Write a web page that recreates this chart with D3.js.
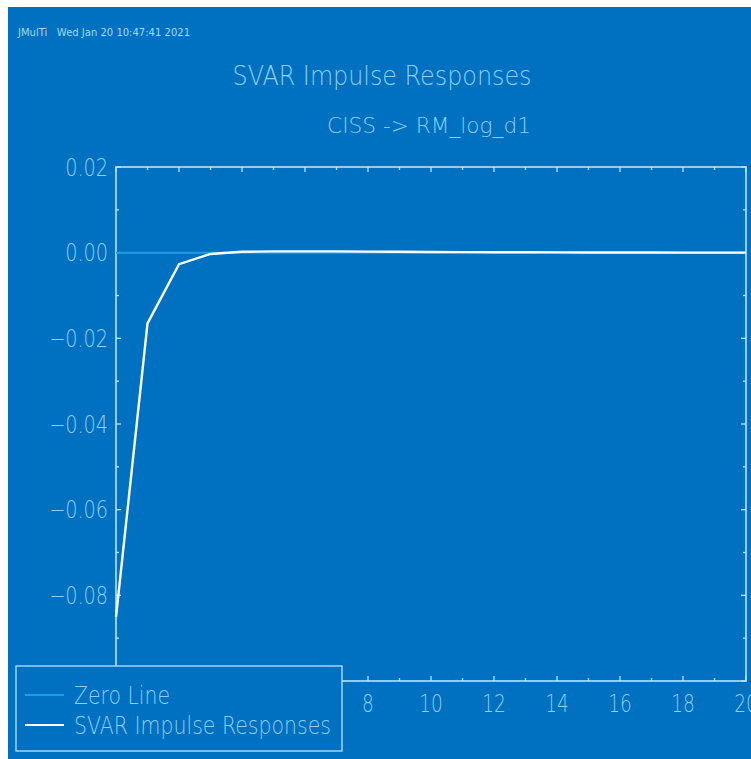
<!DOCTYPE html>
<html>
<head>
<meta charset="utf-8">
<script src="https://cdn.jsdelivr.net/npm/d3@7"></script>
<style>
  body { margin: 0; background: #fff; }
  text { font-family: 'DejaVu Sans ExtraLight', 'DejaVu Sans', sans-serif; font-weight: 200; white-space: pre; }
  text.stamp { font-family: 'DejaVu Sans', sans-serif; font-weight: 400; }
</style>
</head>
<body>
<script>
// impulse response of RM_log_d1 to a CISS shock, periods 0..20
const periods = d3.range(0, 21);
const irf = [-0.0851, -0.0165, -0.0027, -0.0003, 0.0002, 0.0003, 0.0003, 0.0003,
  0.00025, 0.0002, 0.00016, 0.00013, 0.0001, 0.00008, 0.00006, 0.00005,
  0.00004, 0.00003, 0.00002, 0.00001, 0.0];
// labels 0..6 sit under the legend box in the original
const xTicks = [8, 10, 12, 14, 16, 18, 20];
const yTicks = [0.02, 0.0, -0.02, -0.04, -0.06, -0.08];
const legendNames = ['Zero Line', 'SVAR Impulse Responses'];

const W = 751, H = 759;
const bg = '#0070c0', frameCol = '#b8e4fa', textCol = '#8fcff2', zeroCol = '#1e9de2';

const svg = d3.select('body').append('svg').attr('width', W).attr('height', H);
svg.append('rect').attr('width', W).attr('height', H).attr('fill', '#fff');
svg.append('rect').attr('x', 8).attr('y', 7).attr('width', W - 8).attr('height', H - 7).attr('fill', bg);

// squeeze text to a narrow look
function narrow(sel, f) {
  sel.each(function () {
    const w = this.getComputedTextLength();
    d3.select(this).attr('textLength', w * f).attr('lengthAdjust', 'spacingAndGlyphs');
  });
}

svg.append('text').attr('class', 'stamp').attr('x', 18).attr('y', 36).attr('font-size', 10.5)
  .attr('fill', '#a6daf5')
  .text('JMulTi   Wed Jan 20 10:47:41 2021')
  .attr('textLength', 172).attr('lengthAdjust', 'spacingAndGlyphs');

svg.append('text').attr('x', 232.5).attr('y', 84.5).attr('font-size', 26).attr('fill', textCol)
  .text('SVAR Impulse Responses').attr('textLength', 299).attr('lengthAdjust', 'spacingAndGlyphs');
svg.append('text').attr('x', 327).attr('y', 132.5).attr('font-size', 22).attr('fill', textCol)
  .text('CISS -> RM_log_d1').attr('textLength', 204).attr('lengthAdjust', 'spacingAndGlyphs');

const x = d3.scaleLinear().domain([0, 20]).range([116, 746]);
const y = d3.scaleLinear().domain([-0.1, 0.02]).range([681, 167]);

const g = svg.append('g');

// inward ticks on all four sides
const minorX = d3.range(0, 21, 1), minorY = d3.range(-0.1, 0.0201, 0.01);
function tickLen(v, step) { return Math.abs(Math.round(v / step) % 2) === 0 ? 5 : 3; }
minorX.forEach(v => {
  const L = v % 2 === 0 ? 5 : 3;
  g.append('line').attr('x1', x(v)).attr('x2', x(v)).attr('y1', y(-0.1)).attr('y2', y(-0.1) - L);
  g.append('line').attr('x1', x(v)).attr('x2', x(v)).attr('y1', y(0.02)).attr('y2', y(0.02) + L);
});
minorY.forEach(v => {
  const L = tickLen(v, 0.01);
  g.append('line').attr('x1', x(0)).attr('x2', x(0) + L).attr('y1', y(v)).attr('y2', y(v));
  g.append('line').attr('x1', x(20)).attr('x2', x(20) - L).attr('y1', y(v)).attr('y2', y(v));
});
g.selectAll('line').attr('stroke', frameCol).attr('stroke-width', 1.3);

g.append('rect').attr('x', x(0)).attr('y', y(0.02))
  .attr('width', x(20) - x(0)).attr('height', y(-0.1) - y(0.02))
  .attr('fill', 'none').attr('stroke', frameCol).attr('stroke-width', 1.6);

const fmt = d3.format('.2f');
svg.append('g').selectAll('text').data(yTicks).join('text')
  .attr('x', 108).attr('y', d => y(d)).attr('dy', '0.36em')
  .attr('text-anchor', 'end').attr('font-size', 24).attr('fill', textCol)
  .text(d => d === 0 ? '0.00' : fmt(d).replace('-', '\u2212'))
  .call(narrow, 0.8);

svg.append('g').selectAll('text').data(xTicks).join('text')
  .attr('x', d => x(d)).attr('y', 712)
  .attr('text-anchor', 'middle').attr('font-size', 25).attr('fill', textCol)
  .text(d => d)
  .call(narrow, 0.74);

// zero line and response
svg.append('line').attr('x1', x(0)).attr('x2', x(20)).attr('y1', y(0)).attr('y2', y(0))
  .attr('stroke', zeroCol).attr('stroke-width', 2);

const line = d3.line().x((d, i) => x(periods[i])).y(d => y(d));
svg.append('path').datum(irf).attr('d', line)
  .attr('fill', 'none').attr('stroke', '#fff').attr('stroke-width', 2.4);

// legend
const leg = svg.append('g');
leg.append('rect').attr('x', 16).attr('y', 666).attr('width', 326).attr('height', 85)
  .attr('fill', bg).attr('stroke', frameCol).attr('stroke-width', 1.3);
const legCols = [zeroCol, '#fff'];
const legW = [96, 257];
legendNames.forEach((name, i) => {
  const yy = 695 + i * 30;
  leg.append('line').attr('x1', 25).attr('x2', 64).attr('y1', yy).attr('y2', yy)
    .attr('stroke', legCols[i]).attr('stroke-width', 2.2);
  leg.append('text').attr('x', 74).attr('y', yy + 9).attr('font-size', 25).attr('fill', textCol)
    .text(name).attr('textLength', legW[i]).attr('lengthAdjust', 'spacingAndGlyphs');
});
</script>
</body>
</html>
